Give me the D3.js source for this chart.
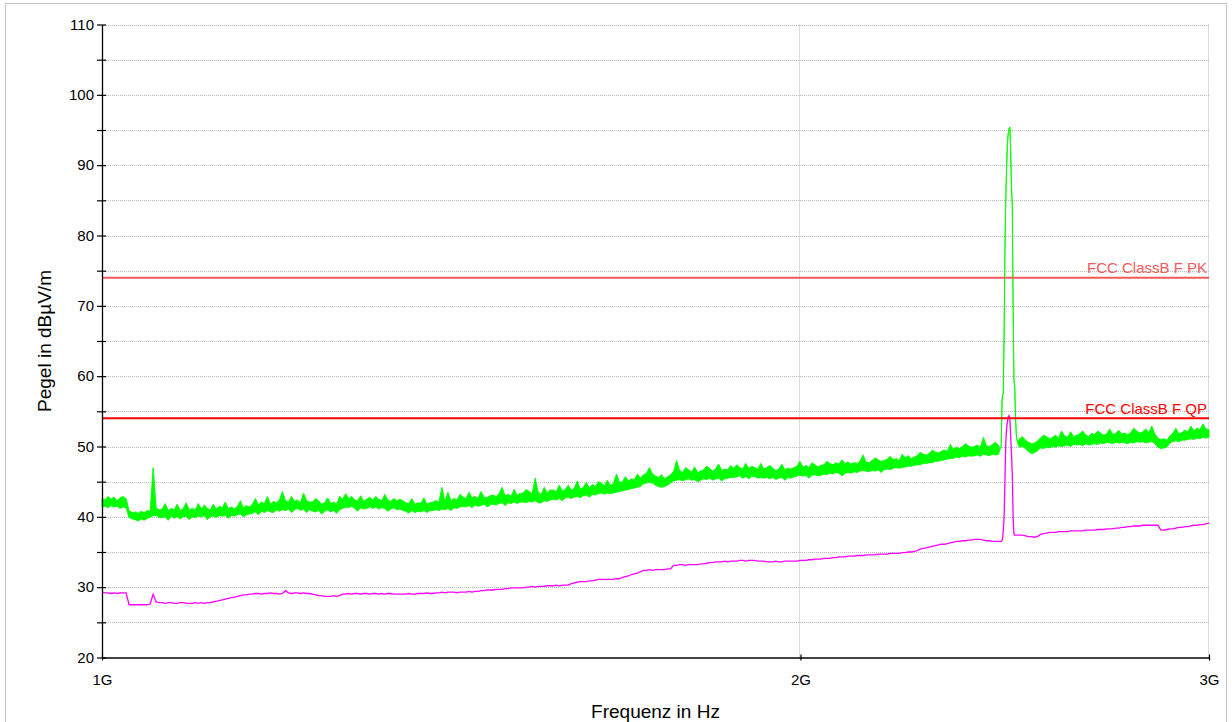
<!DOCTYPE html>
<html>
<head>
<meta charset="utf-8">
<script src="https://cdn.jsdelivr.net/npm/d3@7"></script>
<style>
  body { margin: 0; background: #fff; }
  text { font-family: "Liberation Sans", Arial, Helvetica, sans-serif; }
</style>
</head>
<body>
<svg id="chart" width="1232" height="722"></svg>
<script>
// sweep: 1 GHz .. 3 GHz, log spaced, one value per point
var sweepStartMHz = 1000, sweepStopMHz = 3000;

var xTickMHz = [1000, 2000, 3000];
var xTickLabels = ["1G", "2G", "3G"];
var yTickLevels = [20, 25, 30, 35, 40, 45, 50, 55, 60, 65, 70, 75, 80, 85, 90, 95, 100, 105, 110];

var limitNames = ["FCC ClassB F PK", "FCC ClassB F QP"];
var limitLevels = [74, 54];

// peak trace (green), per display point: upper and lower edge of the band
var peakHi = [
  42.6, 42.4, 42.9, 42.5, 42.8, 42.3, 42.7, 42.9, 42.6, 40.9, 40.6, 40.7, 40.5, 40.8, 40.6, 40.9, 40.8, 47.0, 41.3, 41.0,
  41.1, 41.9, 40.9, 41.2, 41.0, 41.8, 40.9, 41.2, 42.0, 41.0,
  41.2, 41.0, 41.9, 41.1, 41.7, 41.2, 41.0, 41.8, 41.1, 41.5,
  41.3, 42.1, 41.2, 41.4, 41.1, 41.5, 42.3, 41.3, 41.6, 41.4,
  41.8, 42.6, 41.7, 42.1, 41.9, 42.9, 41.8, 42.2, 42.0, 42.4,
  43.6, 42.3, 42.1, 42.9, 42.2, 42.4, 42.0, 43.4, 42.3, 42.1,
  42.1, 42.6, 42.3, 41.8, 42.0, 42.7, 41.9, 42.1, 41.8, 42.9,
  42.5, 43.3, 42.6, 42.9, 42.4, 42.3, 43.0, 42.2, 42.5, 42.8,
  42.4, 42.9, 42.5, 42.3, 43.2, 42.4, 42.2, 42.6, 42.3, 42.5,
  42.3, 42.0, 41.9, 42.6, 41.8, 42.0, 41.9, 42.7, 41.8, 42.0,
  42.1, 42.3, 42.1, 44.2, 42.2, 43.5, 42.3, 42.6, 42.4, 43.2,
  42.8, 42.6, 43.5, 42.7, 42.9, 42.6, 43.6, 42.8, 42.7, 43.0,
  43.1, 42.9, 43.3, 44.2, 43.0, 43.2, 42.9, 43.9, 43.1, 43.3,
  43.4, 43.9, 43.6, 43.3, 45.5, 43.5, 43.2, 44.2, 43.4, 43.8,
  43.8, 43.6, 44.5, 43.7, 43.9, 44.5, 43.8, 44.1, 45.1, 43.9,
  44.2, 44.9, 44.1, 44.6, 44.3, 45.0, 44.8, 44.4, 45.2, 44.5,
  44.7, 46.1, 44.9, 45.0, 45.7, 45.1, 45.4, 45.3, 46.1, 45.5,
  46.0, 46.2, 47.0, 46.1, 45.8, 45.6, 46.0, 45.4, 45.7, 46.0,
  46.4, 48.0, 46.6, 46.3, 47.0, 46.7, 46.4, 47.1, 46.3, 46.5,
  46.7, 47.2, 46.9, 46.5, 46.8, 47.5, 46.6, 46.8, 46.7, 47.3,
  46.9, 47.4, 47.0, 46.8, 47.6, 46.9, 47.2, 47.0, 46.8, 47.6,
  46.8, 47.0, 47.3, 46.9, 46.6, 46.8, 47.5, 46.7, 46.9, 46.8,
  47.0, 47.2, 47.9, 47.1, 47.3, 47.0, 47.7, 47.4, 47.1, 47.3,
  47.4, 47.9, 47.6, 47.4, 47.7, 47.5, 48.1, 47.6, 47.8, 47.5,
  47.7, 47.6, 47.9, 48.8, 47.8, 47.7, 48.0, 48.4, 48.1, 47.9,
  48.0, 48.2, 48.6, 48.1, 48.3, 48.0, 48.9, 48.4, 48.7, 48.3,
  48.5, 48.7, 49.2, 48.9, 48.8, 49.0, 49.5, 49.2, 49.1, 49.3,
  49.5, 49.3, 50.3, 49.6, 49.9, 49.7, 50.0, 50.4, 50.1, 49.9,
  50.0, 50.2, 49.9, 51.3, 50.1, 50.0, 50.3, 50.6, 50.2, 50.2,
  70.0, 90.0, 95.0, 72.0, 53.0, 51.1, 51.4, 50.9, 50.6, 50.4,
  50.5, 50.8, 51.2, 51.6, 51.4, 51.1, 51.3, 51.6, 51.2, 52.2,
  51.5, 51.3, 52.1, 51.4, 51.6, 51.8, 52.2, 51.7, 51.4, 51.9,
  51.7, 52.2, 51.9, 51.6, 51.8, 52.5, 51.7, 51.9, 52.3, 51.8,
  51.9, 51.7, 52.0, 52.6, 52.2, 51.9, 52.1, 52.5, 52.0, 52.9,
  51.8, 51.2, 51.0, 51.1, 50.9, 51.5, 51.9, 52.6, 51.8, 52.0,
  52.3, 52.1, 52.9, 52.2, 52.6, 52.4, 53.2, 52.5, 52.4
];
var peakLo = [
  41.4, 41.5, 41.3, 41.6, 41.4, 41.5, 41.2, 41.4, 41.3, 39.9, 39.7, 39.6, 39.4, 39.7, 39.5, 39.8, 39.9, 40.2, 40.2, 39.9,
  39.9, 40.0, 39.5, 40.1, 39.8, 40.0, 39.7, 40.0, 40.1, 39.6,
  40.0, 39.9, 40.1, 40.0, 40.2, 39.6, 40.0, 40.1, 39.9, 40.2,
  40.1, 40.2, 39.8, 40.2, 40.1, 40.3, 40.4, 40.0, 40.3, 40.4,
  40.5, 40.7, 40.3, 40.8, 40.6, 40.9, 40.7, 40.6, 41.0, 40.8,
  41.0, 40.9, 41.1, 40.6, 41.0, 41.2, 40.9, 41.1, 40.6, 41.0,
  40.8, 40.7, 40.9, 40.4, 40.8, 41.0, 40.7, 40.9, 40.5, 41.0,
  41.2, 41.4, 41.3, 41.5, 41.2, 40.8, 41.3, 41.1, 41.2, 41.4,
  41.2, 41.4, 41.1, 41.3, 41.2, 40.8, 41.1, 41.3, 41.0, 41.1,
  40.9, 40.8, 40.5, 40.9, 40.6, 40.8, 40.7, 40.9, 40.6, 40.9,
  40.9, 41.0, 40.9, 41.1, 41.0, 41.2, 40.9, 41.3, 41.2, 41.4,
  41.5, 41.4, 41.6, 41.3, 41.7, 41.5, 41.6, 41.8, 41.4, 41.7,
  41.8, 41.7, 41.9, 42.0, 41.6, 42.0, 41.9, 42.1, 41.9, 42.1,
  42.1, 42.0, 42.2, 42.1, 42.3, 42.0, 42.0, 42.3, 42.2, 42.4,
  42.5, 42.4, 42.6, 42.3, 42.7, 42.8, 42.6, 42.8, 42.9, 42.7,
  43.0, 43.1, 42.8, 43.2, 43.1, 43.3, 43.4, 43.2, 43.4, 43.3,
  43.4, 43.5, 43.6, 43.7, 43.8, 43.9, 44.0, 44.1, 44.2, 44.3,
  44.7, 44.8, 44.9, 44.8, 44.5, 44.3, 44.2, 44.3, 44.5, 44.8,
  45.1, 45.2, 45.3, 45.1, 45.3, 45.4, 45.2, 45.3, 45.0, 45.2,
  45.4, 45.3, 45.5, 45.2, 45.4, 45.5, 45.1, 45.4, 45.5, 45.6,
  45.6, 45.7, 45.8, 45.5, 45.7, 45.4, 45.8, 45.7, 45.5, 45.6,
  45.5, 45.6, 45.4, 45.6, 45.3, 45.5, 45.6, 45.2, 45.6, 45.5,
  45.7, 45.8, 45.9, 45.8, 45.9, 45.5, 45.9, 46.0, 45.8, 45.9,
  46.1, 46.0, 46.2, 46.1, 46.3, 46.2, 45.8, 46.2, 46.3, 46.2,
  46.4, 46.3, 46.5, 46.6, 46.5, 46.4, 46.6, 46.5, 46.7, 46.3,
  46.7, 46.8, 46.7, 46.9, 47.0, 46.9, 47.0, 47.1, 47.2, 47.2,
  47.3, 47.4, 47.4, 47.6, 47.6, 47.7, 47.7, 47.9, 47.9, 48.0,
  48.1, 48.2, 48.3, 48.3, 48.5, 48.4, 48.6, 48.5, 48.7, 48.6,
  48.7, 48.8, 48.6, 48.9, 48.8, 48.7, 48.9, 48.8, 48.9, 48.9,
  70.0, 90.0, 95.0, 72.0, 53.0, 49.9, 50.0, 49.7, 49.3, 49.0,
  49.1, 49.4, 49.8, 49.7, 49.9, 49.8, 50.0, 49.9, 50.1, 50.0,
  50.1, 50.2, 50.0, 50.3, 50.2, 50.3, 50.1, 50.4, 50.2, 50.3,
  50.4, 50.3, 50.5, 50.4, 50.6, 50.5, 50.4, 50.6, 50.5, 50.6,
  50.5, 50.4, 50.6, 50.5, 50.7, 50.6, 50.7, 50.5, 50.6, 50.7,
  50.4, 49.9, 49.7, 49.8, 49.9, 50.5, 50.7, 50.8, 50.7, 50.9,
  50.9, 51.0, 51.1, 51.0, 51.2, 51.1, 51.3, 51.2, 51.3
];
// average trace (magenta)
var avgLevel = [
  29.3, 29.2, 29.2, 29.1, 29.2, 29.1, 29.2, 29.2, 29.2, 27.5, 27.5, 27.5, 27.5, 27.5, 27.5, 27.5, 27.6, 29.0, 27.9, 27.8,
  27.8, 27.7, 27.8, 27.8, 27.7, 27.7, 27.8, 27.8, 27.7, 27.7,
  27.7, 27.8, 27.7, 27.8, 27.7, 27.8, 27.8, 27.9, 28.0, 28.1,
  28.2, 28.3, 28.4, 28.5, 28.6, 28.7, 28.8, 28.9, 28.9, 29.0,
  29.0, 29.1, 29.1, 29.0, 29.1, 29.1, 29.2, 29.1, 29.1, 29.0,
  29.1, 29.5, 29.2, 29.1, 29.2, 29.2, 29.1, 29.2, 29.1, 29.1,
  29.0, 28.9, 28.8, 28.8, 28.7, 28.7, 28.7, 28.8, 28.7, 28.8,
  29.0, 29.0, 29.1, 29.0, 29.1, 29.1, 29.0, 29.1, 29.1, 29.0,
  29.1, 29.1, 29.0, 29.1, 29.0, 29.1, 29.1, 29.0, 29.0, 29.0,
  29.0, 29.0, 29.1, 29.0, 29.0, 29.1, 29.1, 29.1, 29.2, 29.1,
  29.1, 29.2, 29.2, 29.3, 29.2, 29.3, 29.3, 29.3, 29.2, 29.3,
  29.3, 29.3, 29.4, 29.3, 29.4, 29.4, 29.5, 29.5, 29.6, 29.6,
  29.6, 29.7, 29.7, 29.7, 29.8, 29.8, 29.9, 29.9, 29.9, 29.9,
  29.9, 30.0, 30.0, 30.1, 30.0, 30.1, 30.1, 30.1, 30.2, 30.2,
  30.2, 30.3, 30.2, 30.3, 30.3, 30.3, 30.5, 30.6, 30.7, 30.8,
  30.8, 30.8, 30.9, 30.9, 31.0, 31.1, 31.1, 31.1, 31.1, 31.1,
  31.1, 31.2, 31.2, 31.4, 31.5, 31.6, 31.8, 31.9, 32.0, 32.2,
  32.4, 32.4, 32.5, 32.4, 32.5, 32.5, 32.5, 32.5, 32.6, 32.6,
  33.1, 33.1, 33.2, 33.2, 33.1, 33.2, 33.2, 33.2, 33.2, 33.3,
  33.3, 33.4, 33.5, 33.5, 33.6, 33.6, 33.6, 33.7, 33.6, 33.7,
  33.7, 33.7, 33.8, 33.8, 33.7, 33.8, 33.8, 33.8, 33.7, 33.7,
  33.7, 33.6, 33.6, 33.6, 33.7, 33.6, 33.6, 33.7, 33.7, 33.7,
  33.7, 33.7, 33.8, 33.8, 33.8, 33.9, 33.9, 34.0, 34.0, 34.0,
  34.1, 34.1, 34.1, 34.2, 34.2, 34.3, 34.3, 34.3, 34.4, 34.4,
  34.4, 34.5, 34.5, 34.5, 34.6, 34.6, 34.6, 34.6, 34.7, 34.7,
  34.7, 34.7, 34.8, 34.8, 34.8, 34.8, 34.9, 34.9, 35.0, 35.0,
  35.1, 35.2, 35.4, 35.5, 35.6, 35.7, 35.8, 35.9, 36.0, 36.1,
  36.1, 36.2, 36.3, 36.4, 36.5, 36.5, 36.6, 36.6, 36.7, 36.7,
  36.8, 36.8, 36.8, 36.7, 36.6, 36.6, 36.5, 36.5, 36.5, 36.6,
  45.0, 54.2, 54.0, 40.0, 37.4, 37.4, 37.4, 37.3, 37.2, 37.2,
  37.1, 37.2, 37.5, 37.6, 37.7, 37.8, 37.8, 37.8, 37.9, 37.9,
  37.9, 37.9, 38.0, 38.0, 38.0, 38.0, 38.0, 38.1, 38.1, 38.1,
  38.1, 38.2, 38.2, 38.2, 38.3, 38.3, 38.3, 38.4, 38.4, 38.5,
  38.5, 38.6, 38.6, 38.7, 38.7, 38.7, 38.8, 38.8, 38.8, 38.8,
  38.8, 38.8, 38.1, 38.1, 38.2, 38.3, 38.3, 38.4, 38.5, 38.5,
  38.6, 38.6, 38.7, 38.8, 38.8, 38.9, 38.9, 39.0, 39.1
];

// finer scan around the 2.4 GHz carrier
var carrierMHz = [2438, 2441, 2443, 2444, 2446, 2448, 2450, 2452, 2454, 2456, 2458, 2460, 2462, 2464, 2466, 2468, 2470, 2472, 2474, 2476, 2478, 2481];
var carrierPeak = [49.6, 50.0, 56.5, 57.2, 57.5, 66.0, 78.0, 85.0, 89.5, 93.0, 94.5, 95.2, 95.4, 92.0, 87.0, 84.0, 70.0, 59.5, 58.5, 54.0, 51.5, 50.5];
var carrierAvg = [36.5, 36.5, 36.6, 36.8, 38.0, 40.0, 45.0, 50.5, 52.5, 53.5, 54.2, 54.4, 54.0, 51.5, 49.0, 46.0, 40.0, 37.6, 37.4, 37.4, 37.4, 37.4];

(function() {
  var svg = d3.select("#chart");
  var plotLeft = 102, plotRight = 1209, plotTop = 24.5, plotBottom = 657.5;

  var x = d3.scaleLog().domain([sweepStartMHz, sweepStopMHz]).range([plotLeft, plotRight]);
  var y = d3.scaleLinear().domain([20, 110]).range([plotBottom, plotTop]);

  // frequencies of the sweep points
  var n = peakHi.length;
  var sweepMHz = d3.range(n).map(function(i) {
    return sweepStartMHz * Math.pow(sweepStopMHz / sweepStartMHz, i / (n - 1));
  });

  // merge sweep with the carrier scan
  var cLo = carrierMHz[0], cHi = carrierMHz[carrierMHz.length - 1];
  var peakPts = [], avgPts = [];
  sweepMHz.forEach(function(f, i) {
    if (f < cLo) {
      peakPts.push({f: f, hi: peakHi[i], lo: peakLo[i]});
      avgPts.push({f: f, v: avgLevel[i]});
    }
  });
  carrierMHz.forEach(function(f, i) {
    peakPts.push({f: f, hi: carrierPeak[i], lo: carrierPeak[i]});
    avgPts.push({f: f, v: carrierAvg[i]});
  });
  sweepMHz.forEach(function(f, i) {
    if (f > cHi) {
      peakPts.push({f: f, hi: peakHi[i], lo: peakLo[i]});
      avgPts.push({f: f, v: avgLevel[i]});
    }
  });

  // outer frame
  svg.append("rect")
    .attr("x", 5.5).attr("y", 3.5)
    .attr("width", 1221).attr("height", 730)
    .attr("fill", "none")
    .attr("stroke", "#c6c6c6");

  // grid
  var grid = svg.append("g");
  grid.selectAll("line.h").data(yTickLevels.slice(1))
    .enter().append("line")
      .attr("x1", plotLeft).attr("x2", plotRight)
      .attr("y1", function(d) { return Math.round(y(d)) + 0.5; })
      .attr("y2", function(d) { return Math.round(y(d)) + 0.5; })
      .attr("stroke", "#b9b9b9")
      .attr("stroke-dasharray", "1,1");
  grid.selectAll("line.v").data(xTickMHz.slice(1))
    .enter().append("line")
      .attr("x1", function(d) { return Math.round(x(d)) - 0.5; })
      .attr("x2", function(d) { return Math.round(x(d)) - 0.5; })
      .attr("y1", plotTop).attr("y2", plotBottom)
      .attr("stroke", "#b9b9b9")
      .attr("stroke-dasharray", "1,1");

  // peak trace as band
  var band = d3.area()
    .x(function(d) { return x(d.f); })
    .y0(function(d) { return y(d.lo); })
    .y1(function(d) { return y(d.hi); });
  svg.append("path")
    .datum(peakPts)
    .attr("d", band)
    .attr("fill", "#00ff00")
    .attr("stroke", "#00ff00")
    .attr("stroke-width", 0.9)
    .attr("stroke-linejoin", "miter");

  // average trace
  var avgLine = d3.line()
    .x(function(d) { return x(d.f); })
    .y(function(d) { return y(d.v); });
  svg.append("path")
    .datum(avgPts)
    .attr("d", avgLine)
    .attr("fill", "none")
    .attr("stroke", "#ff00ff")
    .attr("stroke-width", 1.3);

  // limit lines
  var limitColors = ["#f35a5a", "#ff0000"];
  limitLevels.forEach(function(lv, k) {
    svg.append("line")
      .attr("x1", plotLeft).attr("x2", plotRight)
      .attr("y1", y(lv)).attr("y2", y(lv))
      .attr("stroke", limitColors[k])
      .attr("stroke-width", 2);
    svg.append("text")
      .attr("x", plotRight - 2)
      .attr("y", y(lv) - 4.5)
      .attr("text-anchor", "end")
      .attr("font-size", "15px")
      .attr("fill", limitColors[k])
      .text(limitNames[k]);
  });

  // y axis
  var yAxis = svg.append("g")
    .attr("transform", "translate(" + plotLeft + ",0)")
    .call(d3.axisLeft(y).tickValues(yTickLevels).tickSizeInner(5).tickSizeOuter(0)
      .tickFormat(function(d) { return d % 10 === 0 ? d : ""; }));
  yAxis.select(".domain").attr("stroke", "#000").attr("stroke-width", 1.3);
  yAxis.selectAll(".tick line").attr("x1", 4).attr("x2", -5).attr("stroke", "#000").attr("stroke-width", 1.2);
  yAxis.selectAll(".tick text")
    .attr("x", -8)
    .attr("font-size", "15px")
    .attr("font-family", "Liberation Sans, Arial, sans-serif")
    .attr("fill", "#000");

  // x axis
  var xAxis = svg.append("g")
    .attr("transform", "translate(0," + plotBottom + ")")
    .call(d3.axisBottom(x).tickValues(xTickMHz).tickSizeInner(3).tickSizeOuter(0)
      .tickFormat(function(d, i) { return xTickLabels[i]; }));
  xAxis.select(".domain").attr("stroke", "#000").attr("stroke-width", 1.3);
  xAxis.selectAll(".tick line").attr("y1", -3).attr("y2", 3).attr("stroke", "#000").attr("stroke-width", 1.2);
  xAxis.selectAll(".tick text")
    .attr("y", 27.5)
    .attr("dy", 0)
    .attr("font-size", "15px")
    .attr("font-family", "Liberation Sans, Arial, sans-serif")
    .attr("fill", "#000");

  // axis titles
  svg.append("text")
    .attr("x", (plotLeft + plotRight) / 2)
    .attr("y", 718)
    .attr("text-anchor", "middle")
    .attr("font-size", "19px")
    .text("Frequenz in Hz");
  svg.append("text")
    .attr("transform", "translate(51," + (plotTop + plotBottom) / 2 + ") rotate(-90)")
    .attr("text-anchor", "middle")
    .attr("font-size", "19px")
    .text("Pegel in dBµV/m");
})();
</script>
</body>
</html>
